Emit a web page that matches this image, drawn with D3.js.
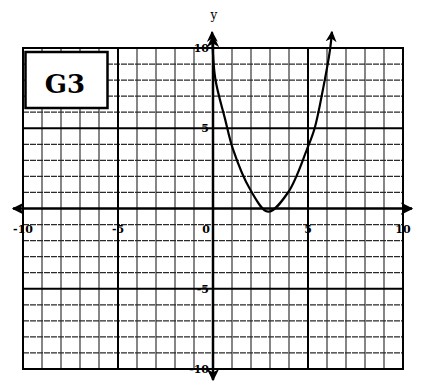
<!DOCTYPE html>
<html lang="en">
<head>
<meta charset="UTF-8">
<title>G3 parabola</title>
<script src="https://d3js.org/d3.v7.min.js"></script>
<style>
  body { margin: 0; background: #fff; }
  .lbl { font-family: "DejaVu Serif", serif; font-weight: bold; font-size: 11px; fill: #000; }
</style>
</head>
<body>
<div id="chart"></div>
<script>
// values
const gridValues = d3.range(-10, 11);
const majorValues = [-10, -5, 5, 10];
const xTickValues = [-10, -5, 0, 5, 10];
const xTickLabels = ["-10", "-5", "0", "5", "10"];
const yTickValues = [10, 5, -5, -10];
const yTickLabels = ["10", "5", "-5", "-10"];

// points along the drawn parabola
const curveX = [-0.05, 0.12, 0.63, 1.05, 1.95, 2.9, 3.95, 4.95, 5.35, 5.8, 6.16, 6.26];
const curveY = [11.0, 8.1, 5.6, 3.7, 1.2, -0.2, 1.0, 3.7, 5.0, 7.5, 9.9, 11.0];

const W = 427, H = 392;

const svg = d3.select("#chart").append("svg")
  .attr("width", W)
  .attr("height", H);

const x = d3.scaleLinear().domain([-10, 10]).range([23, 403]);
const y = d3.scaleLinear().domain([-10, 10]).range([369, 48]);

// arrow markers
const defs = svg.append("defs");
defs.append("marker")
  .attr("id", "axArrow")
  .attr("viewBox", "0 0 10 10")
  .attr("refX", 9).attr("refY", 5)
  .attr("markerWidth", 5).attr("markerHeight", 5)
  .attr("markerUnits", "strokeWidth")
  .attr("orient", "auto-start-reverse")
  .append("path").attr("d", "M0,0 L10,5 L0,10 L3,5 Z").attr("fill", "#000");

defs.append("marker")
  .attr("id", "crvArrow")
  .attr("viewBox", "0 0 10 10")
  .attr("refX", 9).attr("refY", 5)
  .attr("markerWidth", 5).attr("markerHeight", 5.5)
  .attr("markerUnits", "strokeWidth")
  .attr("orient", "auto-start-reverse")
  .append("path").attr("d", "M0,0 L10,5 L0,10 L3,5 Z").attr("fill", "#000");

// minor grid
const minor = gridValues.filter(v => !majorValues.includes(v) && v !== 0);
const grid = svg.append("g");
grid.selectAll("line.v")
  .data(minor)
  .join("line")
  .attr("class", "v")
  .attr("x1", d => x(d)).attr("x2", d => x(d))
  .attr("y1", y(10)).attr("y2", y(-10))
  .attr("stroke", "#222").attr("stroke-width", 1.1);

grid.selectAll("line.h")
  .data(minor)
  .join("line")
  .attr("class", "h")
  .attr("y1", d => y(d)).attr("y2", d => y(d))
  .attr("x1", x(-10)).attr("x2", x(10))
  .attr("stroke", "#2a2a2a").attr("stroke-width", 1.2)
  .attr("stroke-dasharray", "6,1");

// major grid (every 5 and the border)
grid.selectAll("line.mv")
  .data(majorValues)
  .join("line")
  .attr("class", "mv")
  .attr("x1", d => x(d)).attr("x2", d => x(d))
  .attr("y1", y(10) - 1).attr("y2", y(-10) + 1)
  .attr("stroke", "#000").attr("stroke-width", 2);

grid.selectAll("line.mh")
  .data(majorValues)
  .join("line")
  .attr("class", "mh")
  .attr("y1", d => y(d)).attr("y2", d => y(d))
  .attr("x1", x(-10) - 1).attr("x2", x(10) + 1)
  .attr("stroke", "#000").attr("stroke-width", 2);

// G3 box
svg.append("rect")
  .attr("x", 25.5).attr("y", 52)
  .attr("width", 82).attr("height", 56)
  .attr("fill", "#fff")
  .attr("stroke", "#000").attr("stroke-width", 2.5);

svg.append("text")
  .attr("x", 65).attr("y", 93)
  .attr("text-anchor", "middle")
  .style("font-family", "'DejaVu Serif', serif")
  .style("font-weight", "bold")
  .style("font-size", "26px")
  .text("G3");

// axes with arrowheads
svg.append("line")
  .attr("x1", 13).attr("x2", 412)
  .attr("y1", y(0)).attr("y2", y(0))
  .attr("stroke", "#000").attr("stroke-width", 2.5)
  .attr("marker-start", "url(#axArrow)")
  .attr("marker-end", "url(#axArrow)");

svg.append("line")
  .attr("x1", x(0)).attr("x2", x(0))
  .attr("y1", 36).attr("y2", 380)
  .attr("stroke", "#000").attr("stroke-width", 2.5)
  .attr("marker-start", "url(#axArrow)")
  .attr("marker-end", "url(#axArrow)");

svg.append("text")
  .attr("x", x(0) + 1).attr("y", 19)
  .attr("text-anchor", "middle")
  .style("font-family", "'DejaVu Serif', serif")
  .style("font-size", "12px")
  .text("y");

// tick labels
svg.selectAll("text.xl")
  .data(xTickValues)
  .join("text")
  .attr("class", "xl lbl")
  .attr("x", d => x(d) - (d === 0 ? 7 : 0))
  .attr("y", y(0) + 24)
  .attr("text-anchor", "middle")
  .text((d, i) => xTickLabels[i]);

svg.selectAll("text.yl")
  .data(yTickValues)
  .join("text")
  .attr("class", "yl lbl")
  .attr("x", x(0) - 4)
  .attr("y", d => y(d) + 4)
  .attr("text-anchor", "end")
  .text((d, i) => yTickLabels[i]);

// parabola
const pts = curveX.map((v, i) => [v, curveY[i]]);
const line = d3.line()
  .x(d => x(d[0]))
  .y(d => y(d[1]))
  .curve(d3.curveCatmullRom.alpha(0.5));

svg.append("path")
  .datum(pts)
  .attr("d", line)
  .attr("fill", "none")
  .attr("stroke", "#000")
  .attr("stroke-width", 2.2)
  .attr("marker-start", "url(#crvArrow)")
  .attr("marker-end", "url(#crvArrow)");
</script>
</body>
</html>
